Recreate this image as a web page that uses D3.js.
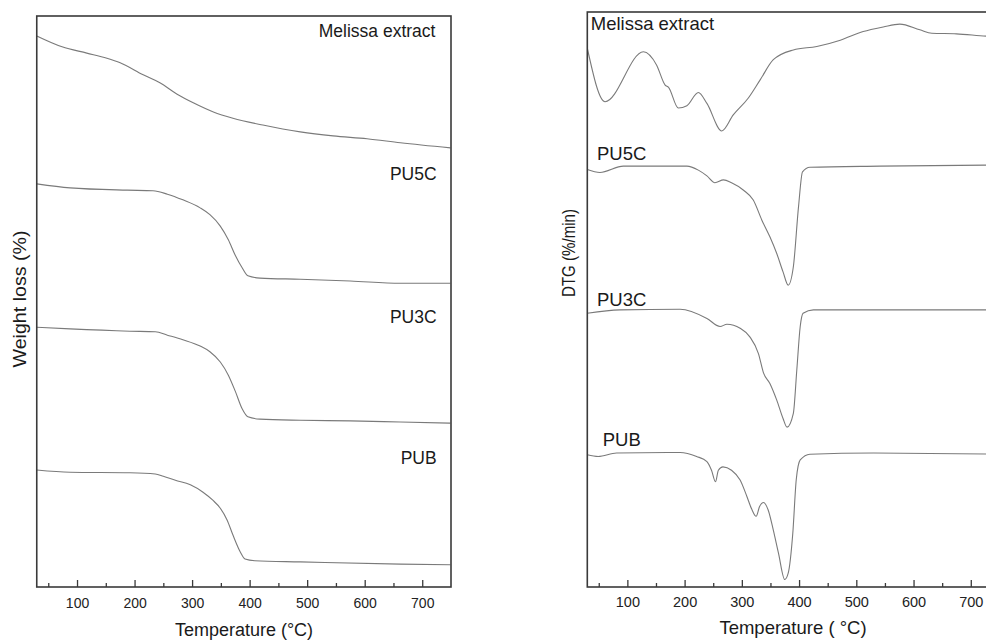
<!DOCTYPE html>
<html>
<head>
<meta charset="utf-8">
<script src="https://cdn.jsdelivr.net/npm/d3@7"></script>
<style>
  html, body { margin: 0; padding: 0; background: #fff; }
  svg { display: block; font-family: "Liberation Sans", Arial, sans-serif; }
</style>
</head>
<body>
<svg id="chart" width="986" height="642"></svg>
<script>
// Temperature axis
const tempDomain = [30, 750];
const majorTicks = [100, 200, 300, 400, 500, 600, 700];
const minorTicks = [50, 150, 250, 350, 450, 550, 650];

// TG curves (stacked, arbitrary vertical units 0–100)
const tgMelissaT = [30, 74, 117, 152, 175, 215, 244, 274, 302, 337, 371, 423, 488, 545, 604, 662, 749];
const tgMelissaV = [96.5, 94.6, 93.5, 92.6, 91.8, 89.7, 88.3, 86.3, 84.8, 83.2, 82.1, 80.9, 79.7, 79.0, 78.5, 77.8, 76.9];

const tgPU5CT = [30, 88, 187, 232, 257, 284, 314, 331, 349, 363, 375, 387, 397, 418, 488, 575, 662, 749];
const tgPU5CV = [70.6, 69.9, 69.5, 69.4, 68.8, 67.8, 66.4, 65.2, 63.2, 60.8, 58.1, 55.9, 54.5, 54.1, 53.9, 53.6, 53.2, 53.2];

const tgPU3CT = [30, 88, 192, 236, 257, 284, 314, 331, 349, 363, 375, 387, 397, 418, 488, 575, 662, 749];
const tgPU3CV = [45.5, 45.2, 44.8, 44.7, 44.1, 43.3, 42.2, 41.2, 39.4, 37.1, 34.3, 31.2, 29.8, 29.4, 29.2, 29.1, 28.9, 28.7];

const tgPUBT = [30, 88, 192, 236, 250, 271, 297, 319, 336, 349, 361, 371, 384, 392, 409, 488, 662, 749];
const tgPUBV = [20.5, 20.1, 20.0, 19.8, 19.4, 18.7, 17.9, 16.6, 15.2, 13.8, 11.7, 9.1, 6.1, 4.9, 4.6, 4.4, 4.0, 3.9];

// DTG curves (stacked, arbitrary vertical units 0–100)
const dtgMelissaT = [30, 61, 128, 151, 166, 172, 189, 204, 224, 239, 265, 285, 311, 332, 355, 390, 431, 472, 512, 547, 576, 611, 632, 675, 727, 750];
const dtgMelissaV = [93.7, 84.4, 93.1, 90.8, 87.3, 86.9, 83.3, 83.7, 86.0, 84.1, 79.3, 82.1, 85.0, 88.2, 91.7, 93.4, 94.0, 95.1, 96.6, 97.4, 97.9, 96.9, 96.3, 96.2, 95.8, 95.7];

const dtgPU5CT = [30, 52, 93, 204, 224, 239, 253, 268, 282, 303, 320, 335, 349, 361, 372, 381, 390, 399, 406, 419, 541, 750];
const dtgPU5CV = [72.6, 72.1, 73.2, 73.2, 72.5, 71.5, 70.3, 70.8, 70.3, 69.0, 67.3, 63.8, 60.9, 58.0, 54.8, 52.5, 55.7, 66.1, 72.2, 73.0, 73.2, 73.4];

const dtgPU3CT = [30, 87, 192, 239, 262, 274, 297, 314, 329, 338, 349, 361, 372, 379, 390, 396, 402, 407, 425, 750];
const dtgPU3CV = [47.6, 48.2, 48.3, 46.7, 45.3, 45.7, 45.0, 43.5, 40.6, 37.2, 35.4, 32.5, 29.3, 27.8, 30.2, 37.7, 45.3, 47.6, 48.2, 48.2];

const dtgPUBT = [30, 49, 81, 192, 221, 239, 247, 254, 259, 267, 282, 297, 309, 317, 325, 331, 338, 346, 355, 364, 375, 381, 389, 395, 402, 419, 530, 750];
const dtgPUBV = [23.0, 22.7, 23.3, 23.4, 22.7, 21.8, 20.3, 18.3, 20.3, 20.9, 20.3, 18.6, 15.7, 13.6, 12.3, 14.0, 14.7, 13.4, 9.9, 5.9, 1.3, 2.4, 9.3, 18.6, 22.1, 23.1, 23.3, 23.1];

const sampleNames = ["Melissa extract", "PU5C", "PU3C", "PUB"];
// label baseline heights in the same stacked units
const tgLabelV = [96.3, 71.2, 46.2, 21.5];
const dtgLabelV = [96.9, 74.3, 48.9, 24.5];
// horizontal anchors for the labels (°C)
const tgLabelT = [723, 725, 725, 725];
const dtgLabelT = [36, 47, 47, 57];

const zip = (t, v) => t.map((d, i) => ({ t: d, v: v[i] }));

const svg = d3.select("#chart");
const lineColor = "#7a7a7a";
const frameColor = "#3a3a3a";

function drawPanel(opts) {
  const { left, right, top, bottom, series, labels, labelV, labelT, labelAnchor,
          labelSize, tickSize, xTitle, xTitleSize, xTitleX, xTitleY, yTitle, yTitleSize, yTitleLen,
          yTitleX, yTitleY, tickLabelY, clipId } = opts;

  const x = d3.scaleLinear().domain(tempDomain).range([left, right]);
  const y = d3.scaleLinear().domain([0, 100]).range([bottom, top]);

  const g = svg.append("g");

  g.append("clipPath").attr("id", clipId)
    .append("rect").attr("x", left).attr("y", top).attr("width", right - left).attr("height", bottom - top);

  const line = d3.line().x(d => x(d.t)).y(d => y(d.v)).curve(d3.curveMonotoneX);

  g.append("g").attr("clip-path", `url(#${clipId})`)
    .selectAll("path").data(series).join("path")
    .attr("d", d => line(d))
    .attr("fill", "none")
    .attr("stroke", lineColor)
    .attr("stroke-width", 1.1);

  // frame
  g.append("rect")
    .attr("x", left).attr("y", top)
    .attr("width", right - left).attr("height", bottom - top)
    .attr("fill", "none").attr("stroke", frameColor).attr("stroke-width", 1.6);

  // major ticks, pointing inward
  const major = g.append("g").attr("transform", `translate(0,${bottom})`)
    .call(d3.axisBottom(x).tickValues(majorTicks).tickSizeInner(-7).tickSizeOuter(0).tickPadding(0).tickFormat(d3.format("d")));
  major.select(".domain").remove();
  major.selectAll(".tick line").attr("stroke", frameColor).attr("stroke-width", 1.3);
  major.selectAll(".tick text")
    .attr("y", tickLabelY - bottom).attr("dy", 0)
    .attr("fill", "#222").style("font-size", tickSize + "px")
    .style("font-family", "'Liberation Sans', Arial, sans-serif");

  // minor ticks
  const minor = g.append("g").attr("transform", `translate(0,${bottom})`)
    .call(d3.axisBottom(x).tickValues(minorTicks).tickSizeInner(-4).tickSizeOuter(0).tickFormat(""));
  minor.select(".domain").remove();
  minor.selectAll(".tick line").attr("stroke", frameColor).attr("stroke-width", 1.3);

  // sample labels
  g.selectAll("text.sample").data(labels).join("text")
    .attr("class", "sample")
    .attr("x", (d, i) => x(labelT[i]))
    .attr("y", (d, i) => y(labelV[i]))
    .attr("text-anchor", labelAnchor)
    .attr("fill", "#1a1a1a")
    .style("font-size", labelSize + "px")
    .text(d => d);

  // axis titles
  g.append("text")
    .attr("x", xTitleX).attr("y", xTitleY)
    .attr("text-anchor", "middle").attr("fill", "#1a1a1a")
    .style("font-size", xTitleSize + "px")
    .text(xTitle);

  const yt = g.append("text")
    .attr("transform", `translate(${yTitleX},${yTitleY}) rotate(-90)`)
    .attr("text-anchor", "middle").attr("fill", "#1a1a1a")
    .style("font-size", yTitleSize + "px")
    .text(yTitle);
  if (yTitleLen) yt.attr("textLength", yTitleLen).attr("lengthAdjust", "spacingAndGlyphs");
}

// Left: TG curves
drawPanel({
  left: 36.75, right: 451, top: 16, bottom: 587,
  series: [zip(tgMelissaT, tgMelissaV), zip(tgPU5CT, tgPU5CV), zip(tgPU3CT, tgPU3CV), zip(tgPUBT, tgPUBV)],
  labels: sampleNames, labelV: tgLabelV, labelT: tgLabelT, labelAnchor: "end", labelSize: 17.5,
  tickSize: 14, tickLabelY: 608,
  xTitle: "Temperature (°C)", xTitleSize: 18, xTitleX: 244, xTitleY: 636,
  yTitle: "Weight loss (%)", yTitleSize: 19, yTitleLen: 137, yTitleX: 26, yTitleY: 299,
  clipId: "clipTG"
});

// Right: DTG curves
drawPanel({
  left: 587.3, right: 999.4, top: 12, bottom: 587,
  series: [zip(dtgMelissaT, dtgMelissaV), zip(dtgPU5CT, dtgPU5CV), zip(dtgPU3CT, dtgPU3CV), zip(dtgPUBT, dtgPUBV)],
  labels: sampleNames, labelV: dtgLabelV, labelT: dtgLabelT, labelAnchor: "start", labelSize: 18.5,
  tickSize: 14.5, tickLabelY: 607,
  xTitle: "Temperature ( °C)", xTitleSize: 18.5, xTitleX: 793, xTitleY: 634,
  yTitle: "DTG (%/min)", yTitleSize: 19, yTitleLen: 88, yTitleX: 575, yTitleY: 253,
  clipId: "clipDTG"
});
</script>
</body>
</html>
